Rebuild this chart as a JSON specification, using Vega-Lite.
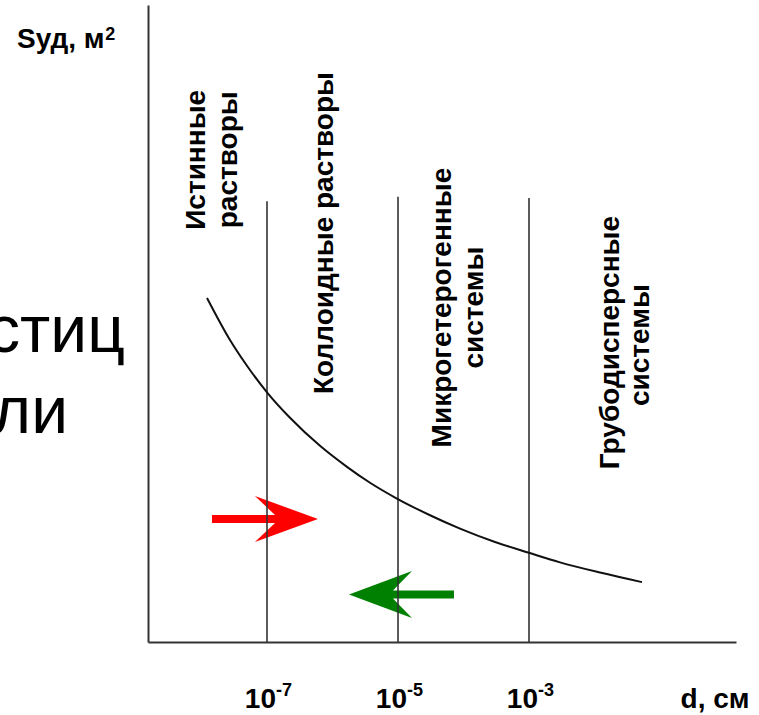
{
  "$schema": "https://vega.github.io/schema/vega-lite/v6.json",
  "width": 588,
  "height": 637,
  "autosize": {"type": "none"},
  "padding": {"left": 148, "top": 5, "right": 23, "bottom": 73},
  "background": "white",
  "config": {"view": {"stroke": null}, "font": "Liberation Sans"},
  "layer": [
    {
      "data": {"values": [{"d": -7.031, "s": 19.31}]},
      "mark": {"type": "point", "filled": true, "color": "#ff0000", "opacity": 1, "strokeWidth": 0, "size": 11236,
        "shape": "M -1 -0.075 L 0.19 -0.075 L -0.19 -0.434 L 1 0 L -0.19 0.434 L 0.19 0.075 L -1 0.075 Z"},
      "encoding": {
        "x": {"field": "d", "type": "quantitative", "scale": {"domain": [-8.8168, 0.1603], "nice": false, "zero": false},
          "axis": {"values": [-7, -5, -3], "labels": false,
            "ticks": false, "grid": false, "title": null, "domainColor": "#333333", "domainWidth": 2}},
        "y": {"field": "s", "type": "quantitative", "scale": {"domain": [0, 100], "nice": false, "zero": false},
          "axis": {"labels": false, "ticks": false, "grid": false, "title": null, "domainColor": "#333333", "domainWidth": 2}}
      }
    },
    {
      "data": {"values": [{"d": -4.947, "s": 7.46}]},
      "mark": {"type": "point", "filled": true, "color": "#008000", "opacity": 1, "strokeWidth": 0, "size": 11025,
        "shape": "M -1 0 L 0.2 -0.448 L -0.162 -0.076 L 1 -0.076 L 1 0.076 L -0.162 0.076 L 0.2 0.448 Z"},
      "encoding": {
        "x": {"field": "d", "type": "quantitative"},
        "y": {"field": "s", "type": "quantitative"}
      }
    },
    {
      "data": {"values": [{"d": -7, "s": 0, "top": 69.2}, {"d": -5, "s": 0, "top": 69.9}, {"d": -3, "s": 0, "top": 69.7}]},
      "mark": {"type": "rule", "color": "#333333", "strokeWidth": 1.6},
      "encoding": {
        "x": {"field": "d", "type": "quantitative"},
        "y": {"field": "s", "type": "quantitative"},
        "y2": {"field": "top"}
      }
    },
    {
      "data": {"values": [
        {"d": -7.916, "s": 54.0}, {"d": -7.565, "s": 47.4}, {"d": -7.260, "s": 42.7}, {"d": -7.000, "s": 39.2},
        {"d": -6.649, "s": 35.2}, {"d": -6.191, "s": 30.8}, {"d": -5.779, "s": 27.5}, {"d": -5.427, "s": 25.0},
        {"d": -5.031, "s": 22.6}, {"d": -4.511, "s": 19.9}, {"d": -4.053, "s": 17.8}, {"d": -3.519, "s": 15.7},
        {"d": -3.000, "s": 14.0}, {"d": -2.527, "s": 12.5}, {"d": -1.916, "s": 10.9}, {"d": -1.275, "s": 9.4}
      ]},
      "mark": {"type": "line", "color": "#111111", "strokeWidth": 2, "interpolate": "monotone"},
      "encoding": {
        "x": {"field": "d", "type": "quantitative"},
        "y": {"field": "s", "type": "quantitative"}
      }
    },
    {
      "data": {"values": [
        {"t": "Истинные", "d": -8.069, "s": 75.7},
        {"t": "растворы", "d": -7.580, "s": 75.7},
        {"t": "Коллоидные растворы", "d": -6.115, "s": 64.2},
        {"t": "Микрогетерогенные", "d": -4.313, "s": 52.5},
        {"t": "системы", "d": -3.824, "s": 52.5},
        {"t": "Грубодисперсные", "d": -1.748, "s": 47.0},
        {"t": "системы", "d": -1.290, "s": 46.6}
      ]},
      "mark": {"type": "text", "angle": 270, "align": "center", "baseline": "middle", "fontSize": 28, "fontWeight": "bold", "font": "Liberation Sans", "color": "black"},
      "encoding": {
        "x": {"field": "d", "type": "quantitative"},
        "y": {"field": "s", "type": "quantitative"},
        "text": {"field": "t"}
      }
    },
    {
      "data": {"values": [{"t": "10", "e": "-7", "d": -7, "s": -10.4}, {"t": "10", "e": "-5", "d": -5, "s": -10.4}, {"t": "10", "e": "-3", "d": -3, "s": -10.4}]},
      "layer": [
        {
          "mark": {"type": "text", "align": "right", "baseline": "alphabetic", "dx": 9, "fontSize": 28, "fontWeight": "bold", "font": "Liberation Sans", "color": "black"},
          "encoding": {
            "x": {"field": "d", "type": "quantitative"},
            "y": {"field": "s", "type": "quantitative"},
            "text": {"field": "t"}
          }
        },
        {
          "mark": {"type": "text", "align": "left", "baseline": "alphabetic", "dx": 9, "dy": -12, "fontSize": 18, "fontWeight": "bold", "font": "Liberation Sans", "color": "black"},
          "encoding": {
            "x": {"field": "d", "type": "quantitative"},
            "y": {"field": "s", "type": "quantitative"},
            "text": {"field": "e"}
          }
        }
      ]
    },
    {
      "data": {"values": [{"t": "Sуд, м", "d": -10.817, "s": 93.2}]},
      "mark": {"type": "text", "align": "left", "baseline": "alphabetic", "fontSize": 28, "fontWeight": "bold", "font": "Liberation Sans", "color": "black"},
      "encoding": {
        "x": {"field": "d", "type": "quantitative"},
        "y": {"field": "s", "type": "quantitative"},
        "text": {"field": "t"}
      }
    },
    {
      "data": {"values": [{"t": "2", "d": -9.47, "s": 94.5}]},
      "mark": {"type": "text", "align": "left", "baseline": "alphabetic", "fontSize": 18, "fontWeight": "bold", "font": "Liberation Sans", "color": "black"},
      "encoding": {
        "x": {"field": "d", "type": "quantitative"},
        "y": {"field": "s", "type": "quantitative"},
        "text": {"field": "t"}
      }
    },
    {
      "data": {"values": [{"t": "d, см", "d": -0.16, "s": -10.4}]},
      "mark": {"type": "text", "align": "center", "baseline": "alphabetic", "fontSize": 28, "fontWeight": "bold", "font": "Liberation Sans", "color": "black"},
      "encoding": {
        "x": {"field": "d", "type": "quantitative"},
        "y": {"field": "s", "type": "quantitative"},
        "text": {"field": "t"}
      }
    },
    {
      "data": {"values": [{"t": "стиц", "d": -9.168, "s": 45.5}, {"t": "ли", "d": -10.038, "s": 32.8}]},
      "mark": {"type": "text", "align": "right", "baseline": "alphabetic", "fontSize": 66, "font": "Liberation Sans", "color": "black"},
      "encoding": {
        "x": {"field": "d", "type": "quantitative"},
        "y": {"field": "s", "type": "quantitative"},
        "text": {"field": "t"}
      }
    }
  ]
}
